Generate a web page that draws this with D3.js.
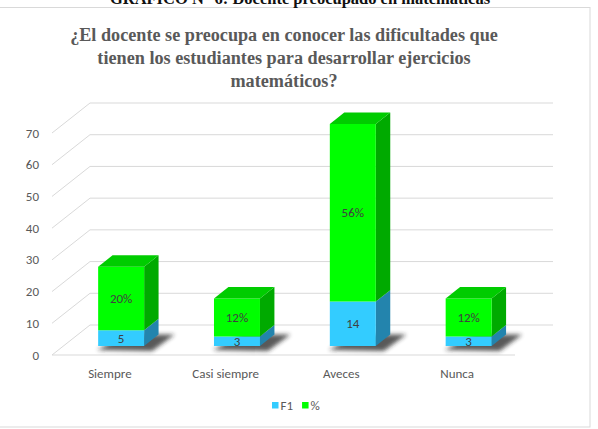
<!DOCTYPE html>
<html>
<head>
<meta charset="utf-8">
<script src="https://cdn.jsdelivr.net/npm/d3@7"></script>
<style>
  body { margin: 0; background: #fff; }
  svg { display: block; }
</style>
</head>
<body>
<svg id="chart" width="598" height="429"></svg>
<script>
// data
var categories = ["Siempre", "Casi siempre", "Aveces", "Nunca"];
var f1 = [5, 3, 14, 3];
var pct = [20, 12, 56, 12];
var pctLabels = ["20%", "12%", "56%", "12%"];
var yTicks = [0, 10, 20, 30, 40, 50, 60, 70];
var seriesNames = ["F1", "%"];

var svg = d3.select("#chart");
var width = 598, height = 429;
var font = "Carlito, Lato, 'Open Sans', sans-serif";

// 3d oblique offsets (full depth of the box)
var depthX = 38, depthY = 30;
var zFront = 0.3, zBack = 0.68;

var x = d3.scaleBand().domain(categories).range([52, 515]).paddingInner(0.603).paddingOuter(0.3);
var xBand = d3.scaleBand().domain(categories).range([52, 515]);
var y = d3.scaleLinear().domain([0, 70]).range([355, 133]);

function P(px, v, z) { return [px + z * depthX, y(v) - z * depthY]; }

var defs = svg.append("defs");
defs.append("filter").attr("id", "blur").attr("x", "-50%").attr("y", "-50%").attr("width", "200%").attr("height", "200%")
  .append("feGaussianBlur").attr("stdDeviation", 2.2);

// frame
svg.append("rect").attr("x", -1).attr("y", 7.5).attr("width", 591).attr("height", 419.5)
  .attr("fill", "#fff").attr("stroke", "#d9d9d9").attr("stroke-width", 1);

// cut heading above the frame
svg.append("text").attr("x", 300).attr("y", 4).attr("text-anchor", "middle")
  .style("font-family", "'Liberation Serif', 'Times New Roman', serif").style("font-weight", "bold")
  .style("font-size", "16.5px").attr("fill", "#111")
  .text("GRÁFICO N° 6: Docente preocupado en matemáticas");

// title
var titleLines = ["¿El docente se preocupa en conocer las dificultades que",
  "tienen los estudiantes para desarrollar ejercicios", "matemáticos?"];
svg.append("g").selectAll("text").data(titleLines).enter().append("text")
  .attr("x", 284).attr("y", function(d, i) { return 41 + i * 23; })
  .attr("text-anchor", "middle")
  .style("font-family", "'Liberation Serif', 'Times New Roman', serif").style("font-weight", "bold")
  .style("font-size", "18.2px").attr("fill", "#595959")
  .text(function(d) { return d; });

// walls / gridlines
var grid = svg.append("g").attr("stroke", "#d9d9d9").attr("stroke-width", 1).attr("fill", "none");
yTicks.forEach(function(t) {
  var a = P(52, t, 0), b = P(52, t, 1), c = P(515, t, 1);
  grid.append("path").attr("d", "M" + a + "L" + b + "L" + c);
});
grid.append("line").attr("x1", 52).attr("x2", 515).attr("y1", y(0)).attr("y2", y(0));

// y axis labels
svg.append("g").selectAll("text").data(yTicks).enter().append("text")
  .attr("x", 39).attr("y", function(d) { return y(d) + 4.5; })
  .attr("text-anchor", "end")
  .style("font-family", font).style("font-size", "13px")
  .attr("fill", "#595959").text(function(d) { return d; });

// category labels
svg.append("g").selectAll("text").data(categories).enter().append("text")
  .attr("x", function(d) { return xBand(d) + xBand.bandwidth() / 2; }).attr("y", 378)
  .attr("text-anchor", "middle")
  .style("font-family", font).style("font-size", "13px")
  .attr("fill", "#595959").text(function(d) { return d; });

var colors = {
  F1: { front: "#33ccff", side: "#2384ad", top: "#2aa8d8" },
  "%": { front: "#00ff00", side: "#00aa00", top: "#00cc00" }
};

function poly(pts) { return "M" + pts.join("L") + "Z"; }

var bars = svg.append("g");
categories.forEach(function(c, i) {
  var x0 = x(c), x1 = x(c) + x.bandwidth();
  // soft shadow on the floor
  bars.append("path")
    .attr("d", poly([[x0 - 1 + zFront * depthX, y(0) - zFront * depthY + 4], [x1 + 8 + zFront * depthX, y(0) - zFront * depthY + 5],
      P(x1 + 16, 0, zBack), P(x0 + 14, 0, zBack)]))
    .attr("fill", "#222").attr("opacity", 0.75).attr("filter", "url(#blur)");

  var segs = [
    { name: "F1", v0: 0, v1: f1[i], label: String(f1[i]) },
    { name: "%", v0: f1[i], v1: f1[i] + pct[i], label: pctLabels[i] }
  ];
  segs.forEach(function(s, k) {
    var col = colors[s.name];
    // side face
    bars.append("path").attr("d", poly([P(x1, s.v0, zFront), P(x1, s.v0, zBack), P(x1, s.v1, zBack), P(x1, s.v1, zFront)]))
      .attr("fill", col.side);
    // front face
    bars.append("path").attr("d", poly([P(x0, s.v0, zFront), P(x1, s.v0, zFront), P(x1, s.v1, zFront), P(x0, s.v1, zFront)]))
      .attr("fill", col.front);
    if (k === segs.length - 1) {
      bars.append("path").attr("d", poly([P(x0, s.v1, zFront), P(x1, s.v1, zFront), P(x1, s.v1, zBack), P(x0, s.v1, zBack)]))
        .attr("fill", col.top);
    }
    var mid = P((x0 + x1) / 2, (s.v0 + s.v1) / 2, zFront);
    bars.append("text").attr("x", mid[0]).attr("y", mid[1] + 4.5)
      .attr("text-anchor", "middle")
      .style("font-family", font).style("font-size", "13px")
      .attr("fill", "#404040").text(s.label);
  });
});

// legend
var legend = svg.append("g").attr("transform", "translate(272,405)");
var lx = 0;
seriesNames.forEach(function(n) {
  legend.append("rect").attr("x", lx).attr("y", -3).attr("width", 6.5).attr("height", 6.5).attr("fill", colors[n].front);
  var t = legend.append("text").attr("x", lx + 8.5).attr("y", 4.5)
    .style("font-family", font).style("font-size", "13px")
    .attr("fill", "#595959").text(n);
  lx += 8.5 + t.node().getComputedTextLength() + 9;
});
</script>
</body>
</html>
